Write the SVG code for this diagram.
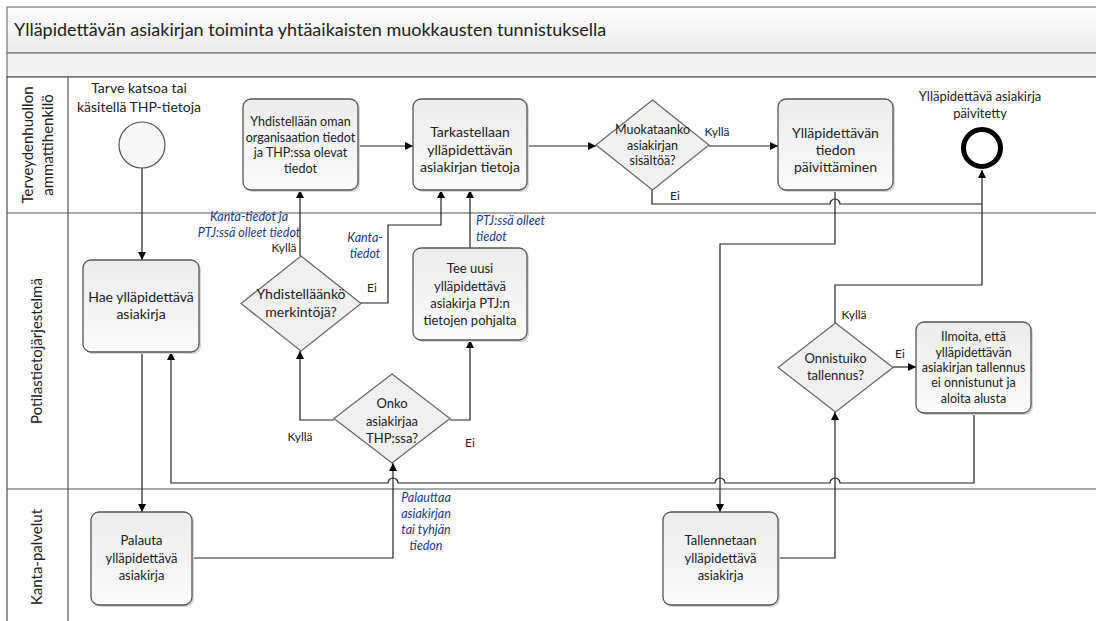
<svg xmlns="http://www.w3.org/2000/svg" width="1096" height="621" viewBox="0 0 1096 621">
<defs>
<linearGradient id="gBox" x1="0" y1="0" x2="0" y2="1"><stop offset="0" stop-color="#ececec"/><stop offset="1" stop-color="#fbfbfb"/></linearGradient>
<linearGradient id="gTitle" x1="0" y1="0" x2="0" y2="1"><stop offset="0" stop-color="#fdfdfd"/><stop offset="1" stop-color="#ececec"/></linearGradient>
<marker id="arr" viewBox="0 0 10 10" refX="10" refY="5" markerWidth="8" markerHeight="8" markerUnits="userSpaceOnUse" orient="auto"><path d="M0,0 L10,5 L0,10 z" fill="#000"/></marker>
</defs>
<style>
text{font-family:Lato,"Liberation Sans",sans-serif;fill:#222}
.box{fill:url(#gBox);stroke:#555;stroke-width:1.3}
.sh{fill:#d8d8d8}
.dia{fill:#f0f0f0;stroke:#666;stroke-width:1.2}
.c{fill:none;stroke:#222;stroke-width:1.2}
.ca{fill:none;stroke:#222;stroke-width:1.2;marker-end:url(#arr)}
.lane{fill:none;stroke:#555;stroke-width:1.2}
.t14{font-size:14px;text-anchor:middle}
.t13{font-size:13px;text-anchor:middle}
.t12{font-size:12.5px;text-anchor:middle}
.lbl{font-size:12px}
.note{font-size:12.5px;font-style:italic;fill:#203a80}
.ln{font-size:15px;text-anchor:middle}
</style>
<g id="pool">
<rect x="7" y="7" width="1100" height="46" fill="url(#gTitle)" stroke="#777" stroke-width="1.2"/>
<rect x="7" y="53" width="1100" height="24" fill="#f3f3f3" stroke="#777" stroke-width="1.2"/>
<rect x="7" y="77" width="1100" height="560" fill="#fff" stroke="#555" stroke-width="1.2"/>
<line class="lane" x1="68" y1="77" x2="68" y2="621"/>
<line class="lane" x1="7" y1="213" x2="1096" y2="213"/>
<line class="lane" x1="7" y1="489" x2="1096" y2="489"/>
<text x="14" y="36" style="font-size:18px">Ylläpidettävän asiakirjan toiminta yhtäaikaisten muokkausten tunnistuksella</text>
<text class="ln" transform="translate(33,145) rotate(-90)">Terveydenhuollon</text>
<text class="ln" transform="translate(53,145) rotate(-90)">ammattihenkilö</text>
<text class="ln" transform="translate(42,351) rotate(-90)">Potilastietojärjestelmä</text>
<text class="ln" transform="translate(42,557) rotate(-90)">Kanta-palvelut</text>
</g>
<g id="connectors">
<path class="ca" d="M142,168 L142,260"/>
<path class="ca" d="M142,352 L142,512"/>
<path class="ca" d="M192,558 L393,558 L393,463"/>
<path class="ca" d="M334,420 L300,420 L300,351"/>
<path class="ca" d="M450,420 L470,420 L470,340"/>
<path class="ca" d="M300,256 L300,190"/>
<path class="ca" d="M361,303 L388,303 L388,225 L441,225 L441,190"/>
<path class="ca" d="M470,248 L470,190"/>
<path class="ca" d="M358,146 L413,146"/>
<path class="ca" d="M527,146 L596,146"/>
<path class="ca" d="M709,146 L778,146"/>
<path class="c" d="M652,190 L652,204 L830,204 A5,5 0 0 1 840,204 L982,204"/>
<path class="ca" d="M835,190 L835,244 L720,244 L720,512"/>
<path class="ca" d="M778,558 L835,558 L835,412"/>
<path class="ca" d="M835,323 L835,285 L982,285 L982,170"/>
<path class="ca" d="M893,367 L916,367"/>
<path class="ca" d="M974,413 L974,483 L840,483 A5,5 0 0 0 830,483 L725,483 A5,5 0 0 0 715,483 L398,483 A5,5 0 0 0 388,483 L171,483 L171,352"/>
<text class="lbl" x="284" y="252" text-anchor="middle">Kyllä</text>
<text class="lbl" x="372" y="292" text-anchor="middle">Ei</text>
<text class="lbl" x="300" y="441" text-anchor="middle">Kyllä</text>
<text class="lbl" x="470" y="447" text-anchor="middle">Ei</text>
<text class="lbl" x="717" y="136" text-anchor="middle">Kyllä</text>
<text class="lbl" x="675" y="200" text-anchor="middle">Ei</text>
<text class="lbl" x="854" y="319" text-anchor="middle">Kyllä</text>
<text class="lbl" x="900" y="358" text-anchor="middle">Ei</text>
<text class="note" x="249" y="221" text-anchor="middle">Kanta-tiedot ja</text>
<text class="note" x="249" y="237" text-anchor="middle">PTJ:ssä olleet tiedot</text>
<text class="note" x="365" y="242" text-anchor="middle">Kanta-</text>
<text class="note" x="365" y="258" text-anchor="middle">tiedot</text>
<text class="note" x="476" y="225">PTJ:ssä olleet</text>
<text class="note" x="476" y="241">tiedot</text>
<text class="note" x="426" y="502" text-anchor="middle">Palauttaa</text>
<text class="note" x="426" y="518" text-anchor="middle">asiakirjan</text>
<text class="note" x="426" y="534" text-anchor="middle">tai tyhjän</text>
<text class="note" x="426" y="550" text-anchor="middle">tiedon</text>
</g>
<g id="start">
<circle cx="142" cy="145" r="23" fill="#f7f7f7" stroke="#555" stroke-width="1.2"/>
<text class="t14" x="139" y="93">Tarve katsoa tai</text>
<text class="t14" x="139" y="112">käsitellä THP-tietoja</text>
</g>
<g id="yhdistellaan">
<rect class="sh" x="245" y="101" width="115" height="91" rx="8"/>
<rect class="box" x="243" y="99" width="115" height="91" rx="8"/>
<text class="t12" x="300.5" y="126">Yhdistellään oman</text>
<text class="t12" x="300.5" y="142">organisaation tiedot</text>
<text class="t12" x="300.5" y="157">ja THP:ssa olevat</text>
<text class="t12" x="300.5" y="173">tiedot</text>
</g>
<g id="tarkastellaan">
<rect class="sh" x="415" y="101" width="114" height="91" rx="8"/>
<rect class="box" x="413" y="99" width="114" height="91" rx="8"/>
<text class="t14" x="470" y="137">Tarkastellaan</text>
<text class="t14" x="470" y="155">ylläpidettävän</text>
<text class="t14" x="470" y="172">asiakirjan tietoja</text>
</g>
<g id="muokataanko">
<polygon class="dia" points="652.5,100 709,145 652.5,190 596,145"/>
<text class="t12" x="652.5" y="134">Muokataanko</text>
<text class="t12" x="652.5" y="150">asiakirjan</text>
<text class="t12" x="652.5" y="165">sisältöä?</text>
</g>
<g id="paivittaminen">
<rect class="sh" x="780" y="101" width="115" height="91" rx="8"/>
<rect class="box" x="778" y="99" width="115" height="91" rx="8"/>
<text class="t14" x="835.5" y="138">Ylläpidettävän</text>
<text class="t14" x="835.5" y="155">tiedon</text>
<text class="t14" x="835.5" y="172">päivittäminen</text>
</g>
<g id="end">
<circle cx="982" cy="148" r="18.5" fill="#fff" stroke="#000" stroke-width="5"/>
<text class="t13" x="980" y="101">Ylläpidettävä asiakirja</text>
<text class="t13" x="980" y="118">päivitetty</text>
</g>
<g id="hae">
<rect class="sh" x="85" y="262" width="116" height="92" rx="8"/>
<rect class="box" x="83" y="260" width="116" height="92" rx="8"/>
<text class="t14" x="141" y="302">Hae ylläpidettävä</text>
<text class="t14" x="141" y="319">asiakirja</text>
</g>
<g id="yhdistellaanko">
<polygon class="dia" points="301,256 361,303.5 301,351 241,303.5"/>
<text class="t14" x="301" y="299">Yhdistelläänkö</text>
<text class="t14" x="301" y="317">merkintöjä?</text>
</g>
<g id="teeuusi">
<rect class="sh" x="415" y="250" width="114" height="92" rx="8"/>
<rect class="box" x="413" y="248" width="114" height="92" rx="8"/>
<text class="t13" x="470" y="273">Tee uusi</text>
<text class="t13" x="470" y="291">ylläpidettävä</text>
<text class="t13" x="470" y="308">asiakirja PTJ:n</text>
<text class="t13" x="470" y="325">tietojen pohjalta</text>
</g>
<g id="onko">
<polygon class="dia" points="392,374 450,418.5 392,463 334,418.5"/>
<text class="t13" x="392" y="408">Onko</text>
<text class="t13" x="392" y="426">asiakirjaa</text>
<text class="t13" x="392" y="443">THP:ssa?</text>
</g>
<g id="onnistuiko">
<polygon class="dia" points="835.5,323 893,367.5 835.5,412 778,367.5"/>
<text class="t13" x="835.5" y="363">Onnistuiko</text>
<text class="t13" x="835.5" y="380">tallennus?</text>
</g>
<g id="ilmoita">
<rect class="sh" x="918" y="324" width="115" height="91" rx="8"/>
<rect class="box" x="916" y="322" width="115" height="91" rx="8"/>
<text class="t12" x="973.5" y="341">Ilmoita, että</text>
<text class="t12" x="973.5" y="357">ylläpidettävän</text>
<text class="t12" x="973.5" y="372">asiakirjan tallennus</text>
<text class="t12" x="973.5" y="387">ei onnistunut ja</text>
<text class="t12" x="973.5" y="403">aloita alusta</text>
</g>
<g id="palauta">
<rect class="sh" x="93" y="514" width="101" height="93" rx="8"/>
<rect class="box" x="91" y="512" width="101" height="93" rx="8"/>
<text class="t13" x="141.5" y="545">Palauta</text>
<text class="t13" x="141.5" y="563">ylläpidettävä</text>
<text class="t13" x="141.5" y="580">asiakirja</text>
</g>
<g id="tallennetaan">
<rect class="sh" x="665" y="514" width="115" height="93" rx="8"/>
<rect class="box" x="663" y="512" width="115" height="93" rx="8"/>
<text class="t13" x="720.5" y="545">Tallennetaan</text>
<text class="t13" x="720.5" y="563">ylläpidettävä</text>
<text class="t13" x="720.5" y="580">asiakirja</text>
</g>
</svg>
